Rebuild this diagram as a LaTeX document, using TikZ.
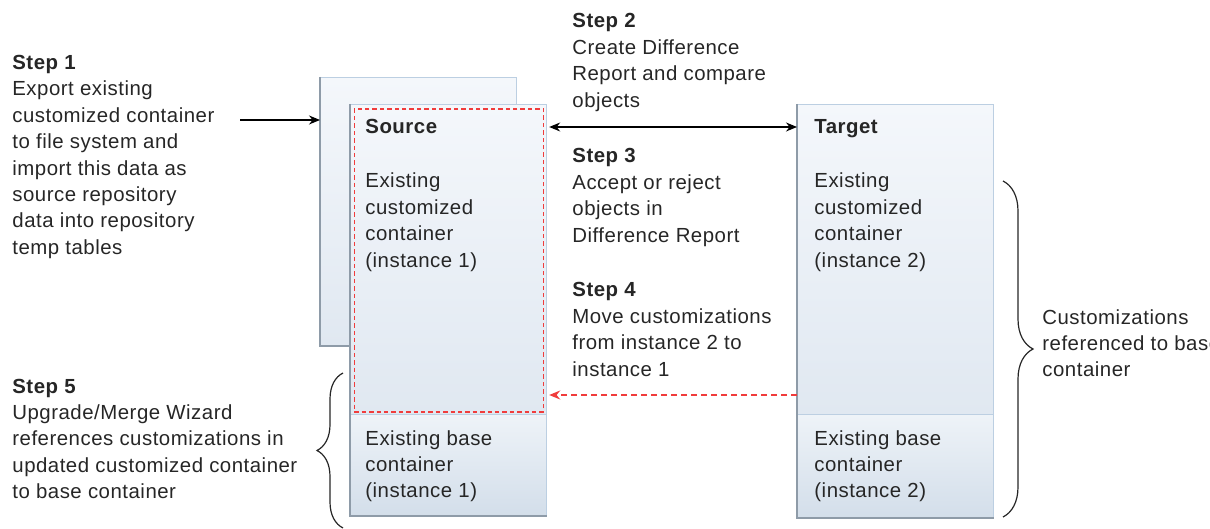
\documentclass[tikz,border=0pt]{standalone}
\usepackage{fontspec}
\setmainfont{Liberation Sans}
\usetikzlibrary{arrows.meta,decorations.pathreplacing}
\definecolor{txtc}{HTML}{262626}
\definecolor{boxlight}{HTML}{F4F7FB}
\definecolor{boxmid}{HTML}{E0E8F1}
\definecolor{baselight}{HTML}{EEF3F8}
\definecolor{basedark}{HTML}{D3DEEA}
\definecolor{boxedge}{HTML}{BCCFE2}
\definecolor{shadowedge}{HTML}{8E9BA8}
\definecolor{redline}{HTML}{F03C3C}
\newcommand\lblfont{\addfontfeature{LetterSpace=2.5}\fontsize{10.2}{13.2}\selectfont}
\tikzset{
  box/.style={draw=boxedge, line width=0.6pt, anchor=north west, inner sep=0pt,
    minimum width=98pt, top color=boxlight, bottom color=boxmid},
  basebox/.style={draw=boxedge, line width=0.6pt, anchor=north west, inner sep=0pt,
    minimum width=98pt, top color=baselight, bottom color=basedark},
  shadowln/.style={draw=shadowedge, line width=0.9pt},
  lbl/.style={anchor=base west, inner sep=0pt, text=txtc, font=\lblfont},
  arr/.style={draw=black, line width=0.6pt},
  brc/.style={draw=txtc, line width=0.6pt, decorate},
  redbox/.style={draw=redline, dash pattern=on 2.2pt off 1.5pt, line width=0.8pt,
    inner sep=0pt, anchor=north west},
}
\newcommand\lines[1]{\parbox[t]{160pt}{\raggedright #1}}
\begin{document}
\begin{tikzpicture}[x=0.5pt,y=-0.5pt]
\useasboundingbox (0,0) rectangle (1210,529);
\clip (0,0) rectangle (1210,529);
% back box
\node[box, minimum height=134pt] (back) at (320,77) {};
\draw[shadowln] (back.north west) -- (back.south west) -- (back.south east);
% source box
\node[box, minimum height=155pt] (srcU) at (350,104) {};
\node[basebox, minimum height=50.5pt] (srcL) at (350,414) {};
\draw[shadowln] (srcU.north west) -- (srcL.south west) -- (srcL.south east);
\node[redbox, minimum width=94.5pt, minimum height=151.5pt] (red) at (353.5,108) {};
% target box
\node[box, minimum height=155pt] (tgtU) at (797,104) {};
\node[basebox, minimum height=51.5pt] (tgtL) at (797,414) {};
\draw[shadowln] (tgtU.north west) -- (tgtL.south west) -- (tgtL.south east);
% box texts
\node[lbl] (srcT) at (365,134) {\textbf{Source}};
\node[lbl] (srcC) at (365,188) {\lines{Existing\\customized\\container\\(instance 1)}};
\node[lbl] (srcB) at (365,445) {\lines{Existing base\\container\\(instance 1)}};
\node[lbl] (tgtT) at (814,134) {\textbf{Target}};
\node[lbl] (tgtC) at (814,188) {\lines{Existing\\customized\\container\\(instance 2)}};
\node[lbl] (tgtB) at (814,445) {\lines{Existing base\\container\\(instance 2)}};
% step texts
\node[lbl] (st1) at (12,69.5) {\lines{\textbf{Step 1}\\Export existing\\customized container\\to file system and\\import this data as\\source repository\\data into repository\\temp tables}};
\node[lbl] (st2) at (572,28) {\lines{\textbf{Step 2}\\Create Difference\\Report and compare\\objects}};
\node[lbl] (st3) at (572,163) {\lines{\textbf{Step 3}\\Accept or reject\\objects in\\Difference Report}};
\node[lbl] (st4) at (572,297) {\lines{\textbf{Step 4}\\Move customizations\\from instance 2 to\\instance 1}};
\node[lbl] (st5) at (12,393) {\lines{\textbf{Step 5}\\Upgrade/Merge Wizard\\references customizations in\\updated customized container\\to base container}};
\node[lbl] (cust) at (1042,324) {\lines{Customizations\\referenced to base\\container}};
% arrows
\coordinate (s1a) at (240,120);
\draw[arr, -{Stealth[length=5.5pt,width=4.5pt]}] (s1a) -- (back.west |- s1a);
\coordinate (a2) at (0,127);
\draw[arr, {Stealth[length=5.5pt,width=4.5pt]}-{Stealth[length=5.5pt,width=4.5pt]}] ([xshift=1pt]srcU.east |- a2) -- (tgtU.west |- a2);
\coordinate (a4) at (0,395);
\draw[draw=redline, line width=0.7pt, dash pattern=on 3pt off 2pt, -{Stealth[length=5.5pt,width=4.5pt]}] (tgtU.west |- a4) -- ([xshift=1pt]srcU.east |- a4);
% braces
\coordinate (lbB) at (343,528);
\coordinate (lbT) at (343,373);
\draw[brc, decoration={brace, amplitude=13pt}] (lbB) -- (lbT);
\coordinate (rbT) at (1003,181);
\coordinate (rbB) at (1003,517);
\draw[brc, decoration={brace, amplitude=15pt}] (rbT) -- (rbB);
\end{tikzpicture}
\end{document}
